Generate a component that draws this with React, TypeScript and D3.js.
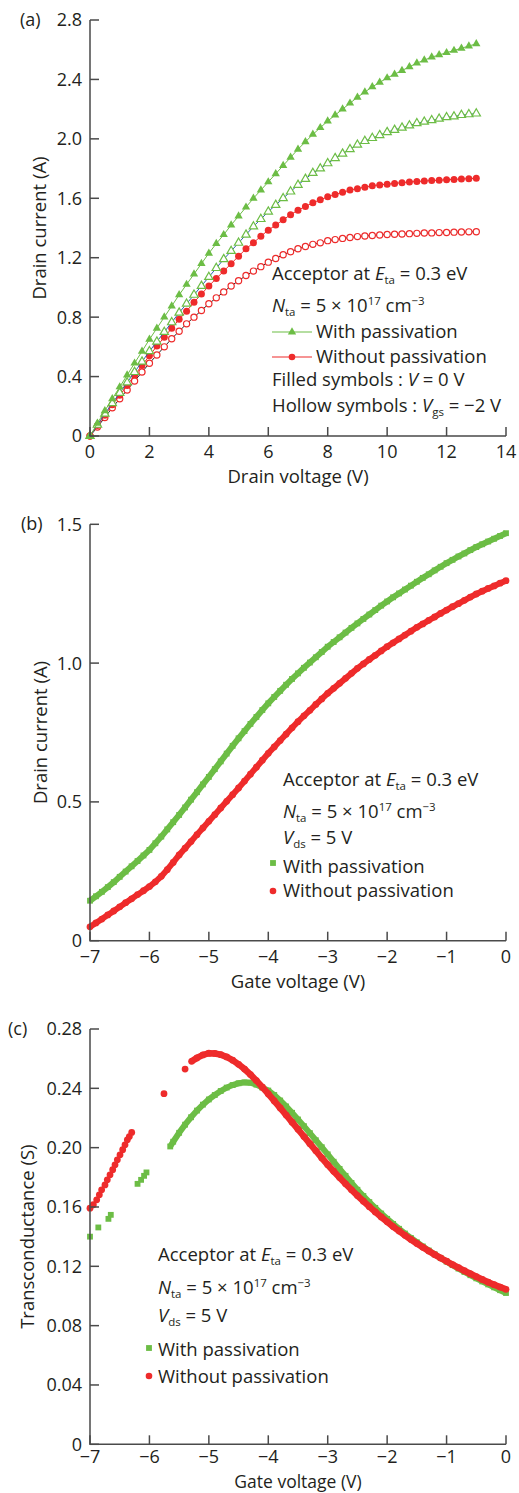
import * as d3 from "d3";

const FONT = "'Open Sans', sans-serif";
const FS = 18;
const GREEN = "#6cbd45";
const RED = "#ee2b2b";
const AXIS = "#4a4a4a";

// ---- (a) drain current vs drain voltage, 0..13 V every 0.25 V
const vdsA = d3.range(0, 13.001, 0.25);
const greenFilledA = [
  0, 0.085, 0.17, 0.25, 0.33, 0.41, 0.49, 0.57, 0.65, 0.725, 0.8, 0.875, 0.95, 1.02, 1.09, 1.16,
  1.23, 1.295, 1.355, 1.42, 1.48, 1.54, 1.6, 1.655, 1.71, 1.765, 1.82, 1.875, 1.93, 1.98, 2.03,
  2.075, 2.12, 2.16, 2.2, 2.24, 2.28, 2.315, 2.35, 2.38, 2.41, 2.435, 2.46, 2.485, 2.51, 2.53,
  2.55, 2.565, 2.58, 2.595, 2.61, 2.625, 2.64,
];
const greenHollowA = [
  0, 0.075, 0.15, 0.22, 0.29, 0.36, 0.43, 0.5, 0.57, 0.635, 0.7, 0.765, 0.83, 0.89, 0.95, 1.01,
  1.07, 1.13, 1.19, 1.245, 1.3, 1.355, 1.41, 1.46, 1.51, 1.555, 1.6, 1.645, 1.69, 1.73, 1.77,
  1.8, 1.835, 1.87, 1.9, 1.93, 1.96, 1.985, 2.005, 2.025, 2.045, 2.06, 2.075, 2.09, 2.105, 2.115,
  2.125, 2.135, 2.145, 2.15, 2.16, 2.165, 2.17,
];
const redFilledA = [
  0, 0.07, 0.14, 0.21, 0.275, 0.34, 0.41, 0.475, 0.54, 0.605, 0.665, 0.725, 0.785, 0.84, 0.9,
  0.955, 1.01, 1.06, 1.11, 1.16, 1.21, 1.26, 1.3, 1.345, 1.385, 1.42, 1.455, 1.49, 1.52, 1.545,
  1.57, 1.59, 1.61, 1.625, 1.64, 1.655, 1.665, 1.675, 1.685, 1.69, 1.695, 1.7, 1.705, 1.71,
  1.713, 1.716, 1.719, 1.722, 1.725, 1.727, 1.73, 1.732, 1.735,
];
const redHollowA = [
  0, 0.06, 0.125, 0.19, 0.25, 0.31, 0.37, 0.43, 0.49, 0.545, 0.6, 0.655, 0.705, 0.755, 0.8,
  0.845, 0.89, 0.93, 0.97, 1.01, 1.045, 1.08, 1.11, 1.14, 1.17, 1.195, 1.22, 1.24, 1.26, 1.275,
  1.29, 1.3, 1.315, 1.322, 1.33, 1.336, 1.342, 1.346, 1.35, 1.353, 1.356, 1.358, 1.36, 1.362,
  1.364, 1.366, 1.367, 1.369, 1.37, 1.372, 1.373, 1.374, 1.375,
];

// ---- (b) drain current vs gate voltage, -7..0 V every 0.1 V
const vgsB = d3.range(-7, 0.001, 0.1);
const greenB = [
  0.144, 0.16, 0.176, 0.193, 0.211, 0.23, 0.249, 0.268, 0.287, 0.307, 0.327, 0.351, 0.375, 0.401,
  0.427, 0.453, 0.48, 0.508, 0.535, 0.563, 0.59, 0.618, 0.646, 0.674, 0.702, 0.729, 0.755, 0.781,
  0.806, 0.831, 0.855, 0.878, 0.9, 0.922, 0.943, 0.963, 0.983, 1.002, 1.021, 1.04, 1.059, 1.076,
  1.093, 1.11, 1.127, 1.143, 1.159, 1.175, 1.191, 1.207, 1.222, 1.237, 1.251, 1.265, 1.279,
  1.293, 1.307, 1.32, 1.334, 1.347, 1.36, 1.372, 1.384, 1.395, 1.407, 1.418, 1.428, 1.438, 1.448,
  1.458, 1.468,
];
const redB = [
  0.05, 0.064, 0.078, 0.093, 0.107, 0.122, 0.137, 0.151, 0.166, 0.18, 0.195, 0.212, 0.232, 0.256,
  0.282, 0.309, 0.333, 0.357, 0.382, 0.406, 0.43, 0.454, 0.478, 0.502, 0.526, 0.55, 0.575, 0.6,
  0.625, 0.65, 0.675, 0.698, 0.721, 0.744, 0.767, 0.789, 0.81, 0.83, 0.851, 0.871, 0.891, 0.909,
  0.927, 0.945, 0.963, 0.981, 0.997, 1.013, 1.028, 1.044, 1.059, 1.073, 1.087, 1.101, 1.115,
  1.129, 1.141, 1.154, 1.166, 1.179, 1.191, 1.203, 1.214, 1.226, 1.238, 1.249, 1.259, 1.269,
  1.278, 1.288, 1.297,
];

// ---- (c) transconductance vs gate voltage
const greenScatterC: [number, number][] = [
  [-7.0, 0.14], [-6.86, 0.1462], [-6.69, 0.152], [-6.65, 0.1547],
  [-6.2, 0.1756], [-6.14, 0.1783], [-6.09, 0.181], [-6.05, 0.1833],
];
const vgsGreenC = [-5.65, ...d3.range(-5.6, 0.001, 0.1)];
const greenC = [
  0.2008, 0.204, 0.21, 0.2155, 0.2205, 0.225, 0.229, 0.2325, 0.2355, 0.2382, 0.2405, 0.2422, 0.2434,
  0.244, 0.2438, 0.2425, 0.2405, 0.2385, 0.2355, 0.2318, 0.2278, 0.2235, 0.219, 0.2145, 0.2098,
  0.205, 0.2003, 0.1955, 0.1905, 0.1857, 0.181, 0.1762, 0.1716, 0.1674, 0.1633, 0.1594, 0.1556,
  0.152, 0.1486, 0.1453, 0.1421, 0.1391, 0.1362, 0.1334, 0.1307, 0.1281, 0.1256, 0.1232, 0.1208,
  0.1185, 0.1162, 0.114, 0.1119, 0.1098, 0.1078, 0.1058, 0.1039, 0.102,
];
const redScatterC: [number, number][] = [
  [-7.0, 0.1592], [-6.944, 0.1615], [-6.887, 0.1648], [-6.843, 0.1682], [-6.804, 0.1716],
  [-6.748, 0.1749], [-6.709, 0.1783], [-6.663, 0.1817], [-6.618, 0.1851], [-6.579, 0.1884],
  [-6.54, 0.1918], [-6.495, 0.1952], [-6.45, 0.1986], [-6.411, 0.2019], [-6.372, 0.2053],
  [-6.338, 0.2075], [-6.298, 0.2103], [-5.755, 0.2364], [-5.4, 0.253],
];
const vgsRedC = [-5.29, ...d3.range(-5.2, 0.001, 0.1)];
const redC = [
  0.2582, 0.2605, 0.2625, 0.2637, 0.2635, 0.2627, 0.2612, 0.259, 0.2562, 0.253, 0.2493, 0.2452, 0.2408,
  0.2362, 0.2315, 0.2268, 0.222, 0.2172, 0.2124, 0.2075, 0.2027, 0.1979, 0.1931, 0.1885, 0.1841,
  0.1798, 0.1756, 0.1716, 0.1677, 0.1639, 0.1602, 0.1567, 0.1533, 0.15, 0.1468, 0.1438, 0.1409,
  0.1381, 0.1354, 0.1328, 0.1303, 0.1279, 0.1256, 0.1234, 0.1212, 0.1191, 0.117, 0.115, 0.113,
  0.1111, 0.1093, 0.1076, 0.106, 0.1045,
];

const ticksA_x = [0, 2, 4, 6, 8, 10, 12, 14];
const ticksA_y = [0, 0.4, 0.8, 1.2, 1.6, 2.0, 2.4, 2.8];
const ticksBC_x = [-7, -6, -5, -4, -3, -2, -1, 0];
const ticksB_y = [0, 0.5, 1.0, 1.5];
const ticksC_y = [0, 0.04, 0.08, 0.12, 0.16, 0.2, 0.24, 0.28];

type Seg = { t: string; it?: boolean; sub?: boolean; sup?: boolean };

const RichText = ({ x, y, segs, size = 18.5 }: { x: number; y: number; segs: Seg[]; size?: number }) => {
  let cur = 0;
  return (
    <text x={x} y={y} fontSize={size} fill="#231f20" fontFamily={FONT}>
      {segs.map((s, i) => {
        const target = s.sub ? 4 : s.sup ? -7 : 0;
        const dy = target - cur;
        cur = target;
        return (
          <tspan
            key={i}
            dy={dy}
            fontStyle={s.it ? "italic" : "normal"}
            fontSize={s.sub || s.sup ? size * 0.62 : size}
          >
            {s.t}
          </tspan>
        );
      })}
    </text>
  );
};

const minus = (v: number) => (v < 0 ? "\u2212" + Math.abs(v) : String(v));

const Axes = ({
  x, y, xt, yt, yfmt, xfmt, xTitle, xTitleDy = 47, xTickDy = 22, titleSize = 18.5,
  yTitle, yTitleX, tag, tagX, tagY,
}: any) => {
  const [x0, x1] = x.range();
  const [y0, y1] = y.range();
  return (
    <g fontFamily={FONT} fontSize={FS} fill="#231f20">
      <path d={`M${x0},${y1}V${y0}H${x1}`} fill="none" stroke={AXIS} strokeWidth={1.5} />
      {yt.map((t: number) => (
        <g key={"y" + t}>
          <line x1={x0} x2={x0 + 9} y1={y(t)} y2={y(t)} stroke={AXIS} strokeWidth={1.5} />
          <text x={82} y={y(t)} dy="0.36em" textAnchor="end">{yfmt(t)}</text>
        </g>
      ))}
      {xt.map((t: number) => (
        <g key={"x" + t}>
          <line x1={x(t)} x2={x(t)} y1={y0} y2={y0 - 9} stroke={AXIS} strokeWidth={1.5} />
          <text x={x(t)} y={y0 + xTickDy} textAnchor="middle">{xfmt(t)}</text>
        </g>
      ))}
      <text x={(x0 + x1) / 2} y={y0 + xTitleDy} textAnchor="middle" fontSize={titleSize}>{xTitle}</text>
      <text
        transform={`translate(${yTitleX},${(y0 + y1) / 2}) rotate(-90)`}
        textAnchor="middle"
        fontSize={18.5}
      >
        {yTitle}
      </text>
      <text x={tagX} y={tagY}>{tag}</text>
    </g>
  );
};

const tri = d3.symbol().type(d3.symbolTriangle).size(30)();
const sq = d3.symbol().type(d3.symbolSquare).size(34)();

const etaLine: Seg[] = [{ t: "Acceptor at " }, { t: "E", it: true }, { t: "ta", sub: true }, { t: " = 0.3 eV" }];
const ntaLine: Seg[] = [
  { t: "N", it: true }, { t: "ta", sub: true }, { t: " = 5 \u00d7 10" }, { t: "17", sup: true },
  { t: " cm" }, { t: "\u22123", sup: true },
];
const vdsLine: Seg[] = [{ t: "V", it: true }, { t: "ds", sub: true }, { t: " = 5 V" }];

export default function App() {
  const xA = d3.scaleLinear().domain([0, 14]).range([90, 506]);
  const yA = d3.scaleLinear().domain([0, 2.8]).range([436, 20]);
  const xB = d3.scaleLinear().domain([-7, 0]).range([90, 506]);
  const yB = d3.scaleLinear().domain([0, 1.5]).range([940.7, 524.3]);
  const xC = d3.scaleLinear().domain([-7, 0]).range([90, 506]);
  const yC = d3.scaleLinear().domain([0, 0.28]).range([1444.3, 1029]);

  const lineA = (vals: number[]) =>
    d3.line<number>().x((_, i) => xA(vdsA[i])).y((d) => yA(d))(vals) || "";
  const band = (xs: number[], vals: number[], sx: any, sy: any) =>
    d3.line<number>().x((_, i) => sx(xs[i])).y((d) => sy(d))(vals) || "";

  const fmt1 = (t: number) => (t === 0 ? "0" : t.toFixed(1));
  const fmt2 = (t: number) => (t === 0 ? "0" : t.toFixed(2));

  return (
    <svg width={519} height={1493} style={{ position: "absolute", left: 0, top: 0 }}>
      <rect width={519} height={1493} fill="#fff" />

      {/* (a) */}
      <path d={lineA(redHollowA)} fill="none" stroke="#222" strokeWidth={1} />
      {redHollowA.map((d, i) => (
        <circle key={"rh" + i} cx={xA(vdsA[i])} cy={yA(d)} r={3.1} fill="#fff" stroke={RED} strokeWidth={1.2} />
      ))}
      <path d={lineA(redFilledA)} fill="none" stroke={RED} strokeWidth={1} />
      {redFilledA.map((d, i) => (
        <circle key={"rf" + i} cx={xA(vdsA[i])} cy={yA(d)} r={3.5} fill={RED} />
      ))}
      <path d={lineA(greenHollowA)} fill="none" stroke="#2d5fb0" strokeWidth={1} />
      {greenHollowA.map((d, i) => (
        <path key={"gh" + i} d={tri} transform={`translate(${xA(vdsA[i])},${yA(d)})`} fill="#fff" stroke={GREEN} strokeWidth={1.2} />
      ))}
      <path d={lineA(greenFilledA)} fill="none" stroke={GREEN} strokeWidth={1} />
      {greenFilledA.map((d, i) => (
        <path key={"gf" + i} d={tri} transform={`translate(${xA(vdsA[i])},${yA(d)})`} fill={GREEN} />
      ))}
      <Axes
        x={xA} y={yA} xt={ticksA_x} yt={ticksA_y} yfmt={fmt1} xfmt={String}
        xTitle="Drain voltage (V)" yTitle="Drain current (A)" yTitleX={46}
        tag="(a)" tagX={20} tagY={26}
      />
      <RichText x={272} y={280} segs={etaLine} />
      <RichText x={272} y={312} segs={ntaLine} />
      <line x1={272} x2={312} y1={332} y2={332} stroke={GREEN} strokeWidth={1.2} />
      <path d={tri} transform="translate(292,332)" fill={GREEN} />
      <RichText x={316} y={338} segs={[{ t: "With passivation" }]} />
      <line x1={272} x2={312} y1={357} y2={357} stroke={RED} strokeWidth={1.2} />
      <circle cx={292} cy={357} r={3.3} fill={RED} />
      <RichText x={316} y={363} segs={[{ t: "Without passivation" }]} />
      <RichText x={272} y={386} segs={[{ t: "Filled symbols : " }, { t: "V", it: true }, { t: " = 0 V" }]} />
      <RichText
        x={272} y={412}
        segs={[{ t: "Hollow symbols : " }, { t: "V", it: true }, { t: "gs", sub: true }, { t: " = \u22122 V" }]}
      />

      {/* (b) */}
      <path d={band(vgsB, redB, xB, yB)} fill="none" stroke={RED} strokeWidth={6} />
      {redB.map((d, i) => (
        <circle key={"rb" + i} cx={xB(vgsB[i])} cy={yB(d)} r={3.4} fill={RED} />
      ))}
      <path d={band(vgsB, greenB, xB, yB)} fill="none" stroke={GREEN} strokeWidth={6} />
      {greenB.map((d, i) => (
        <path key={"gb" + i} d={sq} transform={`translate(${xB(vgsB[i])},${yB(d)})`} fill={GREEN} />
      ))}
      <Axes
        x={xB} y={yB} xt={ticksBC_x} yt={ticksB_y} yfmt={fmt1} xfmt={minus}
        xTitle="Gate voltage (V)" yTitle="Drain current (A)" yTitleX={47}
        tag="(b)" tagX={21} tagY={530}
      />
      <RichText x={283} y={786} segs={etaLine} />
      <RichText x={283} y={818} segs={ntaLine} />
      <RichText x={283} y={844} segs={vdsLine} />
      <path d={sq} transform="translate(273,863)" fill={GREEN} />
      <RichText x={283} y={873} segs={[{ t: "With passivation" }]} />
      <circle cx={273} cy={891} r={3.3} fill={RED} />
      <RichText x={283} y={897} segs={[{ t: "Without passivation" }]} />

      {/* (c) */}
      {greenScatterC.map(([v, g], i) => (
        <path key={"gs" + i} d={sq} transform={`translate(${xC(v)},${yC(g)})`} fill={GREEN} />
      ))}
      <path d={band(vgsGreenC, greenC, xC, yC)} fill="none" stroke={GREEN} strokeWidth={6} />
      {greenC.map((g, i) => (
        <path key={"gc" + i} d={sq} transform={`translate(${xC(vgsGreenC[i])},${yC(g)})`} fill={GREEN} />
      ))}
      {redScatterC.map(([v, g], i) => (
        <circle key={"rs" + i} cx={xC(v)} cy={yC(g)} r={3.4} fill={RED} />
      ))}
      <path d={band(vgsRedC, redC, xC, yC)} fill="none" stroke={RED} strokeWidth={6.5} />
      {redC.map((g, i) => (
        <circle key={"rc" + i} cx={xC(vgsRedC[i])} cy={yC(g)} r={3.4} fill={RED} />
      ))}
      <Axes
        x={xC} y={yC} xt={ticksBC_x} yt={ticksC_y} yfmt={fmt2} xfmt={minus}
        xTitle="Gate voltage (V)" xTitleDy={43.5} xTickDy={19} titleSize={17.5}
        yTitle="Transconductance (S)" yTitleX={34}
        tag="(c)" tagX={8} tagY={1035}
      />
      <RichText x={158} y={1261} segs={etaLine} />
      <RichText x={158} y={1294} segs={ntaLine} />
      <RichText x={158} y={1322} segs={vdsLine} />
      <path d={sq} transform="translate(149,1348)" fill={GREEN} />
      <RichText x={158} y={1356} segs={[{ t: "With passivation" }]} />
      <circle cx={149} cy={1376} r={3.3} fill={RED} />
      <RichText x={158} y={1383} segs={[{ t: "Without passivation" }]} />
    </svg>
  );
}
